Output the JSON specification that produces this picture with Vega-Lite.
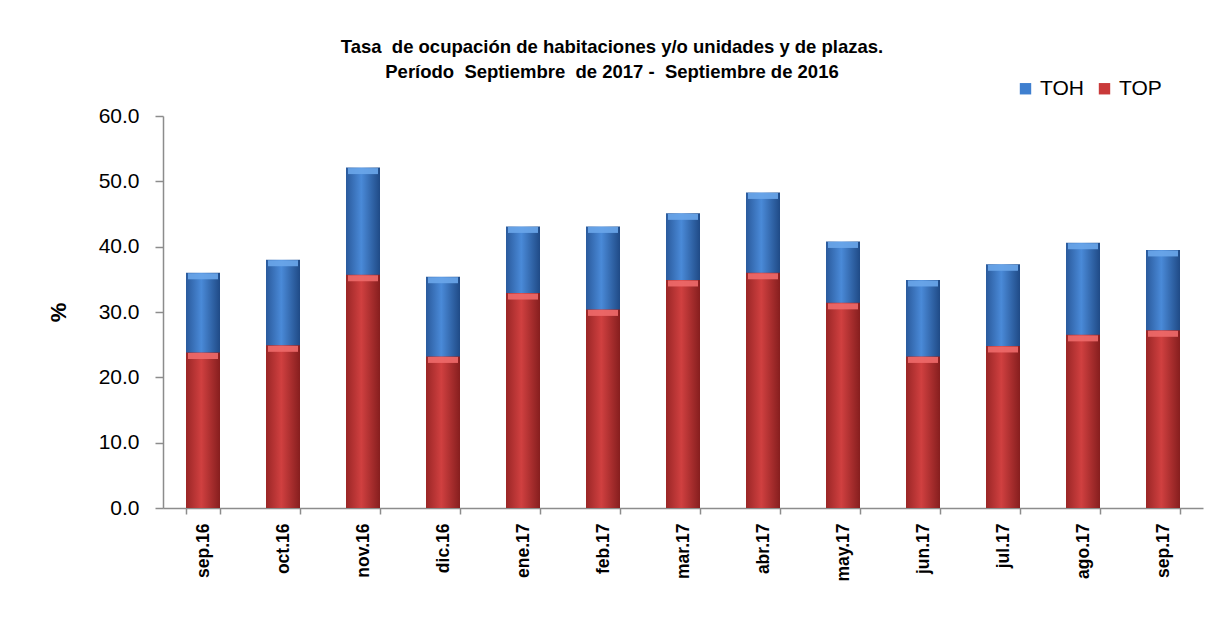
{
  "$schema": "https://vega.github.io/schema/vega-lite/v6.json",
  "autosize": "none",
  "width": 1040,
  "height": 392,
  "padding": {"left": 163, "top": 116, "right": 3, "bottom": 133},
  "background": "white",
  "config": {"view": {"stroke": null}},
  "title": {
    "text": ["Tasa\u00a0 de ocupación de habitaciones y/o unidades y de plazas.", "Período\u00a0 Septiembre\u00a0 de 2017 -\u00a0 Septiembre de 2016"],
    "font": "Liberation Sans, sans-serif",
    "fontSize": 18.5,
    "fontWeight": "bold",
    "color": "#000000",
    "anchor": "middle",
    "dx": -71,
    "offset": -3,
    "lineHeight": 25
  },
  "data": {
    "values": [
      {"mes": "sep.16", "TOH": 36.0, "TOP": 23.8},
      {"mes": "oct.16", "TOH": 38.0, "TOP": 24.9},
      {"mes": "nov.16", "TOH": 52.1, "TOP": 35.7},
      {"mes": "dic.16", "TOH": 35.4, "TOP": 23.2},
      {"mes": "ene.17", "TOH": 43.1, "TOP": 32.9},
      {"mes": "feb.17", "TOH": 43.1, "TOP": 30.4},
      {"mes": "mar.17", "TOH": 45.1, "TOP": 34.9},
      {"mes": "abr.17", "TOH": 48.3, "TOP": 36.0},
      {"mes": "may.17", "TOH": 40.8, "TOP": 31.4},
      {"mes": "jun.17", "TOH": 34.9, "TOP": 23.2},
      {"mes": "jul.17", "TOH": 37.3, "TOP": 24.8},
      {"mes": "ago.17", "TOH": 40.6, "TOP": 26.5},
      {"mes": "sep.17", "TOH": 39.5, "TOP": 27.2}
    ]
  },
  "encoding": {
    "x": {
      "field": "mes",
      "type": "nominal",
      "sort": null,
      "scale": {"paddingInner": 0.575, "paddingOuter": 0.2875},
      "axis": {
        "title": null,
        "labelAngle": 270,
        "labelFont": "Liberation Sans, sans-serif",
        "labelFontSize": 17.5,
        "labelFontWeight": "bold",
        "labelColor": "#000000",
        "labelPadding": 9,
        "tickBand": "extent",
        "tickSize": 6,
        "tickColor": "#8c8c8c",
        "domainColor": "#8c8c8c",
        "domainWidth": 1.5,
        "tickWidth": 1.5
      }
    }
  },
  "layer": [
    {
      "mark": {
        "type": "bar",
        "color": {
          "gradient": "linear", "x1": 0, "y1": 0, "x2": 1, "y2": 0,
          "stops": [
            {"offset": 0, "color": "#2a5a9c"},
            {"offset": 0.45, "color": "#4a8ad8"},
            {"offset": 1, "color": "#1f4a86"}
          ]
        }
      },
      "encoding": {
        "y": {
          "field": "TOH",
          "type": "quantitative",
          "scale": {"domain": [0, 60], "nice": false},
          "axis": {
            "title": "%",
            "titleFont": "Liberation Sans, sans-serif",
            "titleFontSize": 22,
            "titleFontWeight": "bold",
            "titleColor": "#000000",
            "titlePadding": 28,
            "values": [0, 10, 20, 30, 40, 50, 60],
            "format": ".1f",
            "grid": false,
            "labelFont": "Liberation Sans, sans-serif",
            "labelFontSize": 21,
            "labelColor": "#000000",
            "labelPadding": 16,
            "tickSize": 8,
            "tickColor": "#8c8c8c",
            "domainColor": "#8c8c8c",
            "domainWidth": 1.5,
            "tickWidth": 1.5
          }
        }
      }
    },
    {
      "mark": {
        "type": "tick",
        "orient": "horizontal",
        "thickness": 6,
        "yOffset": 3.5,
        "color": "#6aa6ea",
        "opacity": 0.9
      },
      "encoding": {
        "y": {"field": "TOH", "type": "quantitative"},
        "size": {"value": 30}
      }
    },
    {
      "mark": {
        "type": "bar",
        "color": {
          "gradient": "linear", "x1": 0, "y1": 0, "x2": 1, "y2": 0,
          "stops": [
            {"offset": 0, "color": "#9a2626"},
            {"offset": 0.45, "color": "#d04040"},
            {"offset": 1, "color": "#861e1e"}
          ]
        }
      },
      "encoding": {
        "y": {"field": "TOP", "type": "quantitative"}
      }
    },
    {
      "mark": {
        "type": "tick",
        "orient": "horizontal",
        "thickness": 6,
        "yOffset": 3.5,
        "color": "#ee6a6a",
        "opacity": 0.9
      },
      "encoding": {
        "y": {"field": "TOP", "type": "quantitative"},
        "size": {"value": 30}
      }
    },
    {
      "transform": [{"fold": ["TOH", "TOP"], "as": ["serie", "valor"]}],
      "mark": {"type": "square", "opacity": 0},
      "encoding": {
        "y": {"field": "valor", "type": "quantitative"},
        "color": {
          "field": "serie",
          "type": "nominal",
          "scale": {"domain": ["TOH", "TOP"], "range": ["#3f7fcf", "#c93a3a"]},
          "legend": {
            "title": null,
            "orient": "none",
            "direction": "horizontal",
            "legendX": 852,
            "legendY": -38,
            "symbolType": "square",
            "symbolSize": 130,
            "symbolOpacity": 1,
            "symbolStrokeWidth": 0,
            "labelFont": "Liberation Sans, sans-serif",
            "labelFontSize": 21,
            "labelColor": "#000000",
            "labelOffset": 4,
            "columnPadding": 10
          }
        }
      }
    }
  ]
}
